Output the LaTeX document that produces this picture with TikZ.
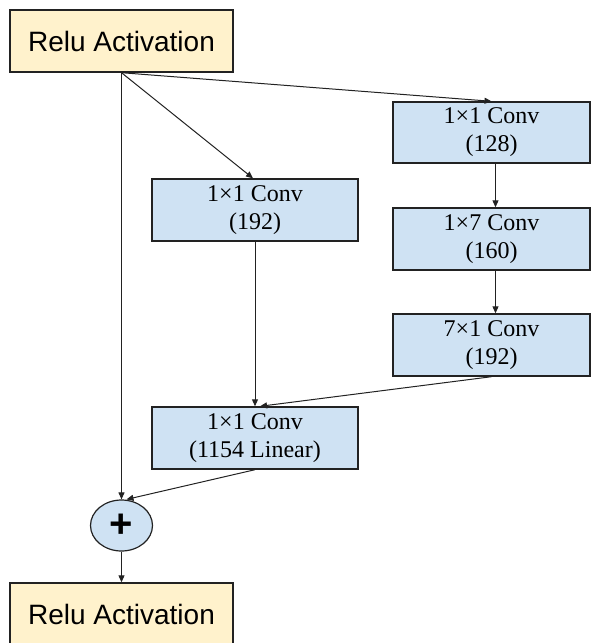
\documentclass[tikz,border=0pt]{standalone}
\usepackage{fontspec}
\setmainfont{Liberation Serif}
\setsansfont{Liberation Sans}
\usetikzlibrary{arrows.meta,shapes.geometric}
\definecolor{convblue}{HTML}{CFE2F3}
\definecolor{reluyellow}{HTML}{FFF2CC}
\definecolor{edge}{HTML}{222222}
\tikzset{
  relubox/.style={draw=edge, line width=1.4pt, fill=reluyellow, minimum width=223pt, minimum height=62pt, inner sep=0pt, font=\sffamily\fontsize{28}{32}\selectfont},
  convbox/.style={draw=edge, line width=1.4pt, fill=convblue, minimum height=62pt, inner sep=0pt, align=center, font=\fontsize{24}{28}\selectfont},
  addnode/.style={draw=edge, line width=1.2pt, fill=convblue, ellipse, minimum width=62pt, minimum height=51pt, inner sep=0pt, font=\sffamily\bfseries\fontsize{40}{40}\selectfont},
  conn/.style={draw=edge, line width=1pt, -{Triangle[length=7pt,width=6pt]}}
}
\begin{document}
\begin{tikzpicture}[x=1pt,y=-1pt]
\useasboundingbox (0,0) rectangle (597,643);
\begin{scope}
\clip (0,0) rectangle (597,643);
\node[relubox] (relu1) at (121.5,41) {Relu Activation};
\node[relubox] (relu2) at (121.5,614) {Relu Activation};
\node[convbox, minimum width=206pt] (c192) at (255,210) {1×1 Conv\\(192)};
\node[convbox, minimum width=206pt] (c1154) at (255,438) {1×1 Conv\\(1154 Linear)};
\node[convbox, minimum width=197pt, minimum height=61pt] (r1) at (491.5,132.5) {1×1 Conv\\(128)};
\node[convbox, minimum width=197pt] (r2) at (491.5,239) {1×7 Conv\\(160)};
\node[convbox, minimum width=197pt] (r3) at (491.5,345) {7×1 Conv\\(192)};
\node[addnode] (plus) at (121.5,525.5) {+};

\draw[conn] (relu1.south) -- (plus.north);
\draw[conn] (relu1.south) -- ([xshift=-2pt]c192.north);
\draw[conn] (relu1.south) -- (r1.north);
\draw[conn] ([xshift=4pt]r1.south) -- ([xshift=4pt]r2.north);
\draw[conn] ([xshift=4pt]r2.south) -- ([xshift=4pt]r3.north);
\draw[conn] (r3.south) -- ([xshift=5pt]c1154.north);
\draw[conn] (c192.south) -- (c1154.north);
\draw[conn] (c1154.south) -- ([xshift=5pt]plus.north);
\draw[conn] (plus.south) -- (relu2.north);
\end{scope}
\end{tikzpicture}
\end{document}
